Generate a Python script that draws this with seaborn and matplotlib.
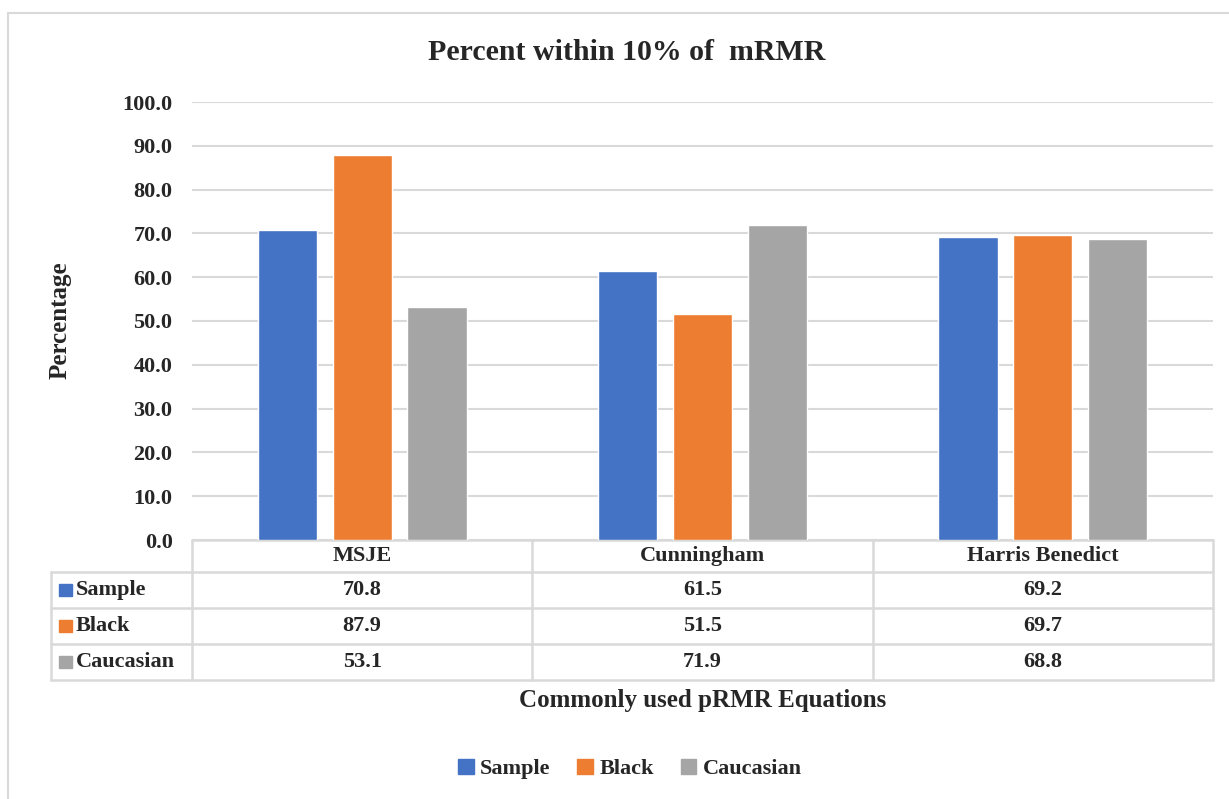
import matplotlib
matplotlib.use("Agg")
import matplotlib.pyplot as plt
from matplotlib.lines import Line2D
from matplotlib.patches import Rectangle
import pandas as pd
import seaborn as sns

equations = ["MSJE", "Cunningham", "Harris Benedict"]
groups = ["Sample", "Black", "Caucasian"]
sample_vals = [70.8, 61.5, 69.2]
black_vals = [87.9, 51.5, 69.7]
caucasian_vals = [53.1, 71.9, 68.8]
yticks = [0, 10, 20, 30, 40, 50, 60, 70, 80, 90, 100]

colors = ["#4472C4", "#ED7D31", "#A5A5A5"]
grid_c = "#D9D9D9"

df = pd.DataFrame({
    "Equation": equations * 3,
    "Group": [g for g in groups for _ in equations],
    "Value": sample_vals + black_vals + caucasian_vals,
})

sns.set_theme(style="white")
plt.rcParams["font.family"] = ["Liberation Serif", "DejaVu Serif"]
plt.rcParams["font.weight"] = "bold"

fig = plt.figure(figsize=(12.29, 7.99), dpi=100)
ax = fig.add_axes([192 / 1229, 1 - 540 / 799, (1213 - 192) / 1229, (540 - 102) / 799])

sns.barplot(data=df, x="Equation", y="Value", hue="Group", order=equations,
            hue_order=groups, palette=colors, width=0.66, gap=0.21,
            saturation=1, ax=ax, legend=False, zorder=3)

ax.set_xlim(-0.5, 2.5)
ax.set_ylim(0, 100)
ax.set_yticks(yticks)
ax.set_yticklabels([f"{v:.1f}" for v in yticks], fontsize=16, fontweight="bold")
ax.tick_params(axis="y", length=0, pad=14)
ax.set_xticks([])
ax.set_xlabel("")
ax.set_ylabel("")
ax.grid(axis="y", color=grid_c, linewidth=1.5, zorder=0)
for s in ax.spines.values():
    s.set_visible(False)

# data table under the plot (x in data units, y in axes fraction)
tr = ax.get_xaxis_transform()
rows = [0, -0.0731, -0.1553, -0.2374, -0.3196]
left = -0.9147
lkw = dict(color=grid_c, linewidth=1.8, transform=tr, clip_on=False)
ax.add_line(Line2D([-0.5, 2.5], [0, 0], **lkw))
for y in rows[1:]:
    ax.add_line(Line2D([left, 2.5], [y, y], **lkw))
for x in [-0.5, 0.5, 1.5, 2.5]:
    ax.add_line(Line2D([x, x], [0, rows[-1]], **lkw))
ax.add_line(Line2D([left, left], [rows[1], rows[-1]], **lkw))

for i, eq in enumerate(equations):
    ax.text(i, (rows[0] + rows[1]) / 2, eq, transform=tr, ha="center",
            va="center", fontsize=16, fontweight="bold")
series = [sample_vals, black_vals, caucasian_vals]
for r, (g, vals, c) in enumerate(zip(groups, series, colors)):
    yc = (rows[r + 1] + rows[r + 2]) / 2
    ax.add_patch(Rectangle((-0.8895, yc - 0.014), 0.036, 0.028, transform=tr,
                           color=c, clip_on=False))
    ax.text(-0.842, yc, g, transform=tr, ha="left", va="center",
            fontsize=16, fontweight="bold")
    for i, v in enumerate(vals):
        ax.text(i, yc, f"{v:.1f}", transform=tr, ha="center", va="center",
                fontsize=16, fontweight="bold")

# titles and axis labels
fig.text(627 / 1229, 1 - 52 / 799, "Percent within 10% of  mRMR", ha="center",
         va="center", fontsize=21.5, fontweight="bold")
fig.text(60 / 1229, 1 - 320 / 799, "Percentage", rotation=90, ha="center",
         va="center", fontsize=18, fontweight="bold")
fig.text(703 / 1229, 1 - 700 / 799, "Commonly used pRMR Equations", ha="center",
         va="center", fontsize=18, fontweight="bold")

# legend
handles = [Rectangle((0, 0), 1, 1, color=c) for c in colors]
fig.legend(handles, groups, loc="center", bbox_to_anchor=(630 / 1229, 1 - 769 / 799),
           ncol=3, frameon=False, prop={"size": 16, "weight": "bold"},
           handlelength=0.7, handleheight=0.7, handletextpad=0.3,
           columnspacing=1.2)

# chart-area border (top and left visible)
fig.add_artist(Line2D([8 / 1229, 1], [1 - 13 / 799] * 2, color=grid_c,
                      linewidth=1.5, transform=fig.transFigure))
fig.add_artist(Line2D([8 / 1229] * 2, [0, 1 - 13 / 799], color=grid_c,
                      linewidth=1.5, transform=fig.transFigure))

fig.savefig("out.png", dpi=100, facecolor="white")
